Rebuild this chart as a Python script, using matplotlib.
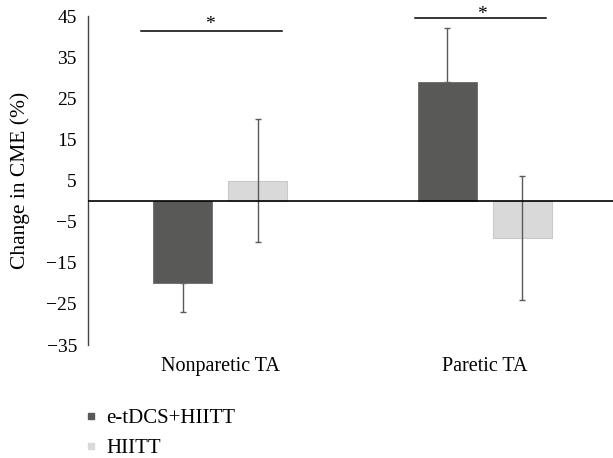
import matplotlib.pyplot as plt
from matplotlib.lines import Line2D
import numpy as np

plt.rcParams['font.family'] = ['Liberation Serif', 'DejaVu Serif']

# data
categories = ["Nonparetic TA", "Paretic TA"]
series_names = ["e-tDCS+HIITT", "HIITT"]
etdcs_mean = [-20, 29]
etdcs_err_low = [7, 0]
etdcs_err_high = [0, 13]
hiitt_mean = [5, -9]
hiitt_err = [15, 15]
y_ticks = list(range(-35, 46, 10))
dark, light = '#595957', '#d9d9d9'

fig = plt.figure(figsize=(6.13, 4.58), dpi=100)
ax = fig.add_axes([0.1436, 0.2467, 0.863, 0.718])

x = np.arange(len(categories))
w = 0.223
off = 0.142

ax.bar(x - off, etdcs_mean, w, color=dark, edgecolor='#6a6a68', linewidth=0.6, zorder=2)
ax.bar(x + off, hiitt_mean, w, color=light, edgecolor='#c9c9c9', linewidth=0.8, zorder=2)
# dark-bar error bars sit behind the bars, light-bar ones on top
ax.errorbar(x - off, etdcs_mean, yerr=[etdcs_err_low, etdcs_err_high], fmt='none',
            ecolor='#5a5a5a', elinewidth=1, capsize=2.5, capthick=1, zorder=1)
ax.errorbar(x + off, hiitt_mean, yerr=hiitt_err, fmt='none',
            ecolor='#5a5a5a', elinewidth=1, capsize=2.5, capthick=1, zorder=3)

ax.axhline(0, color='black', lw=1.2, zorder=4)

# significance markers
sig_y = [41.4, 44.6]
sig_x0 = [-0.298, -0.264]
sig_x1 = [0.234, 0.23]
star_dx = [-0.038, -0.011]
star_dy = [-0.45, -1.2]
for i, yy in enumerate(sig_y):
    ax.plot([x[i] + sig_x0[i], x[i] + sig_x1[i]], [yy, yy], color='black', lw=1.1,
            clip_on=False)
    ax.text(x[i] + star_dx[i], yy + star_dy[i], '*', ha='center', va='bottom',
            fontsize=14, clip_on=False)

ax.set_xlim(-0.5, 1.5)
ax.set_ylim(-35, 45)
ax.set_yticks(y_ticks)
ax.set_yticklabels([f"{t:d}".replace('-', '\u2212') for t in y_ticks], fontsize=14)
ax.set_xticks(x)
ax.set_xticklabels(categories, fontsize=14.5)
ax.tick_params(axis='both', length=0)
ax.tick_params(axis='x', pad=8.5)
ax.tick_params(axis='y', pad=8)
for s in ['top', 'right', 'bottom']:
    ax.spines[s].set_visible(False)
ax.spines['left'].set_color('#444444')
ax.spines['left'].set_linewidth(1)
ax.set_ylabel('Change in CME (%)', fontsize=15.5, labelpad=6)
ax.yaxis.set_label_coords(-0.11, 0.5)

handles = [Line2D([], [], ls='none', marker='s', markersize=5, color=dark),
           Line2D([], [], ls='none', marker='s', markersize=5, color=light)]
fig.legend(handles, series_names, loc='lower left', bbox_to_anchor=(0.107, -0.042),
           frameon=False, fontsize=15, handlelength=0.6,
           handletextpad=0.45, labelspacing=0.5)

fig.savefig('out.png', dpi=100)
